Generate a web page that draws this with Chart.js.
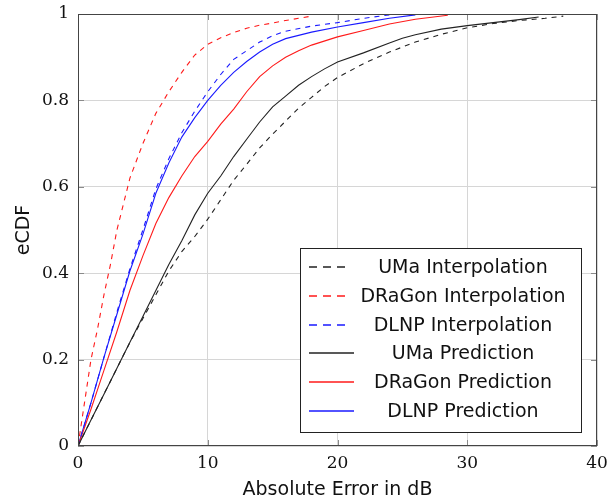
<!DOCTYPE html>
<html>
<head>
<meta charset="utf-8">
<script src="https://cdn.jsdelivr.net/npm/chart.js@4.4.1/dist/chart.umd.min.js"></script>
<style>
  html, body { margin: 0; padding: 0; background: #fff; }
  #wrap { width: 610px; height: 500px; }
</style>
</head>
<body>
<div id="wrap"><canvas id="ecdf" width="610" height="500"></canvas></div>
<script>
// absolute error (dB) and eCDF value per curve
const umaInterpErr = [0, 1, 2, 3, 4, 5, 6, 7, 8, 9, 10, 11, 12, 13, 14, 15, 16, 17, 18, 19, 20, 22, 24, 26, 28, 30, 32, 34, 36, 37.4];
const umaInterpCdf = [0, 0.06, 0.12, 0.18, 0.24, 0.295, 0.35, 0.405, 0.45, 0.485, 0.525, 0.57, 0.615, 0.652, 0.69, 0.722, 0.752, 0.782, 0.807, 0.832, 0.853, 0.885, 0.912, 0.935, 0.953, 0.968, 0.978, 0.985, 0.99, 0.995];

const dragonInterpErr = [0, 0.5, 1, 1.5, 2, 2.5, 3, 3.5, 4, 5, 6, 7, 8, 9, 10, 11, 12, 13, 14, 15, 16, 17, 18];
const dragonInterpCdf = [0, 0.1, 0.2, 0.27, 0.35, 0.42, 0.5, 0.56, 0.62, 0.7, 0.77, 0.82, 0.865, 0.905, 0.93, 0.945, 0.957, 0.967, 0.974, 0.979, 0.985, 0.99, 0.995];

const dlnpInterpErr = [0, 1, 2, 3, 4, 5, 6, 7, 8, 9, 10, 11, 12, 13, 14, 15, 16, 18, 20, 22, 24];
const dlnpInterpCdf = [0, 0.1, 0.205, 0.31, 0.41, 0.5, 0.595, 0.665, 0.725, 0.775, 0.82, 0.86, 0.895, 0.915, 0.935, 0.95, 0.96, 0.972, 0.98, 0.99, 0.998];

const umaPredErr = [0, 1, 2, 3, 4, 5, 6, 7, 8, 9, 10, 11, 12, 13, 14, 15, 16, 17, 18, 19, 20, 22, 24, 25, 26, 28, 30, 32, 34, 35.5];
const umaPredCdf = [0, 0.06, 0.12, 0.18, 0.24, 0.3, 0.36, 0.42, 0.475, 0.535, 0.585, 0.625, 0.67, 0.71, 0.75, 0.785, 0.81, 0.835, 0.855, 0.873, 0.889, 0.91, 0.933, 0.944, 0.952, 0.965, 0.973, 0.98, 0.987, 0.993];

const dragonPredErr = [0, 1, 2, 3, 4, 5, 6, 7, 8, 9, 10, 11, 12, 13, 14, 15, 16, 17, 18, 20, 22, 24, 26, 28.5];
const dragonPredCdf = [0, 0.085, 0.175, 0.265, 0.36, 0.44, 0.515, 0.575, 0.625, 0.67, 0.705, 0.745, 0.78, 0.82, 0.855, 0.88, 0.9, 0.915, 0.928, 0.947, 0.962, 0.977, 0.988, 0.997];

const dlnpPredErr = [0, 1, 2, 3, 4, 5, 6, 7, 8, 9, 10, 11, 12, 13, 14, 15, 16, 18, 20, 22, 24, 26];
const dlnpPredCdf = [0, 0.1, 0.205, 0.305, 0.405, 0.49, 0.585, 0.655, 0.715, 0.76, 0.8, 0.835, 0.865, 0.89, 0.912, 0.93, 0.943, 0.958, 0.97, 0.98, 0.99, 0.998];

const xTicks = [0, 10, 20, 30, 40];
const yTicks = [0, 0.2, 0.4, 0.6, 0.8, 1];

const labels = ['UMa Interpolation', 'DRaGon Interpolation', 'DLNP Interpolation',
	'UMa Prediction', 'DRaGon Prediction', 'DLNP Prediction'];

const BLACK = '#222';
const RED = '#ff1a1a';
const BLUE = '#1a1aff';
const DASH = [5, 5];

const legendColors = [BLACK, RED, BLUE, BLACK, RED, BLUE];
const legendDashed = [true, true, true, false, false, false];

function pts (xs, ys) {
	return xs.map((x, i) => ({ x: x, y: ys[i] }));
}

function series (label, xs, ys, color, dashed) {
	return {
		label: label,
		data: pts(xs, ys),
		borderColor: color,
		borderWidth: 1.1,
		borderDash: dashed ? DASH : [],
		showLine: true,
		pointRadius: 0,
		tension: 0,
		fill: false
	};
}

const datasets = [
	series(labels[0], umaInterpErr, umaInterpCdf, BLACK, true),
	series(labels[1], dragonInterpErr, dragonInterpCdf, RED, true),
	series(labels[2], dlnpInterpErr, dlnpInterpCdf, BLUE, true),
	series(labels[3], umaPredErr, umaPredCdf, BLACK, false),
	series(labels[4], dragonPredErr, dragonPredCdf, RED, false),
	series(labels[5], dlnpPredErr, dlnpPredCdf, BLUE, false)
];

const SANS = '"DejaVu Sans", sans-serif';
const SERIF = '"DejaVu Serif", serif';

// small inward tick marks on all four sides
const innerTicks = {
	id: 'innerTicks',
	afterDatasetsDraw (chart) {
		const { ctx, chartArea: a, scales } = chart;
		ctx.save();
		ctx.strokeStyle = '#8a8a8a';
		ctx.lineWidth = 1;
		ctx.beginPath();
		xTicks.forEach(v => {
			const px = Math.round(scales.x.getPixelForValue(v)) + 0.5;
			ctx.moveTo(px, a.bottom); ctx.lineTo(px, a.bottom - 6);
			ctx.moveTo(px, a.top); ctx.lineTo(px, a.top + 6);
		});
		yTicks.forEach(v => {
			const py = Math.round(scales.y.getPixelForValue(v)) + 0.5;
			ctx.moveTo(a.left, py); ctx.lineTo(a.left + 6, py);
			ctx.moveTo(a.right, py); ctx.lineTo(a.right - 6, py);
		});
		ctx.stroke();
		ctx.strokeStyle = '#444';
		ctx.strokeRect(a.left + 0.5, a.top + 0.5, a.right - a.left - 1, a.bottom - a.top - 1);
		ctx.restore();
	}
};

// legend box drawn inside the plot, lower right
const boxLegend = {
	id: 'boxLegend',
	afterDraw (chart) {
		const ctx = chart.ctx;
		const bx = 300.5, by = 248.5, bw = 281, bh = 184;
		ctx.save();
		ctx.fillStyle = '#fff';
		ctx.fillRect(bx, by, bw, bh);
		ctx.strokeStyle = '#222';
		ctx.lineWidth = 1;
		ctx.strokeRect(bx, by, bw, bh);
		ctx.font = '19px ' + SANS;
		ctx.textAlign = 'center';
		ctx.textBaseline = 'middle';
		labels.forEach((text, i) => {
			// line sits on a pixel edge so it spreads over two rows, a bit lighter
			const y = Math.round(267 + i * 28.8);
			ctx.strokeStyle = legendColors[i];
			ctx.lineWidth = 1.3;
			ctx.setLineDash(legendDashed[i] ? [8, 6] : []);
			ctx.beginPath();
			ctx.moveTo(309, y);
			ctx.lineTo(legendDashed[i] ? 350 : 354, y);
			ctx.stroke();
			ctx.setLineDash([]);
			ctx.fillStyle = '#111';
			ctx.fillText(text, 463, y + 1);
		});
		ctx.restore();
	}
};

const ctx = document.getElementById('ecdf').getContext('2d');
new Chart(ctx, {
	type: 'scatter',
	data: { datasets: datasets },
	options: {
		responsive: false,
		animation: false,
		events: [],
		layout: { padding: { top: 14, right: 13, left: 0, bottom: 0 } },
		plugins: {
			legend: { display: false },
			tooltip: { enabled: false }
		},
		scales: {
			x: {
				type: 'linear',
				min: 0,
				max: 40,
				afterFit: s => { s.height = 54; s.paddingLeft = 0; s.paddingRight = 0; },
				afterBuildTicks: s => { s.ticks = xTicks.map(v => ({ value: v })); },
				grid: { color: '#d6d6d6', drawTicks: false },
				border: { display: false },
				ticks: { color: '#111', padding: 7, font: { family: SERIF, size: 17 } },
				title: { display: true, text: 'Absolute Error in dB', color: '#111', padding: { bottom: -1 }, font: { family: SANS, size: 19 } }
			},
			y: {
				type: 'linear',
				min: 0,
				max: 1,
				afterFit: s => { s.width = 78; s.paddingTop = 0; s.paddingBottom = 0; },
				afterBuildTicks: s => { s.ticks = yTicks.map(v => ({ value: v })); },
				grid: { color: '#d6d6d6', drawTicks: false },
				border: { display: false },
				ticks: {
					color: '#111',
					padding: 9,
					font: { family: SERIF, size: 17 },
					callback: v => String(Math.round(v * 10) / 10)
				},
				title: { display: true, text: 'eCDF', color: '#111', padding: { top: 13 }, font: { family: SANS, size: 19 } }
			}
		}
	},
	plugins: [innerTicks, boxLegend]
});
</script>
</body>
</html>
